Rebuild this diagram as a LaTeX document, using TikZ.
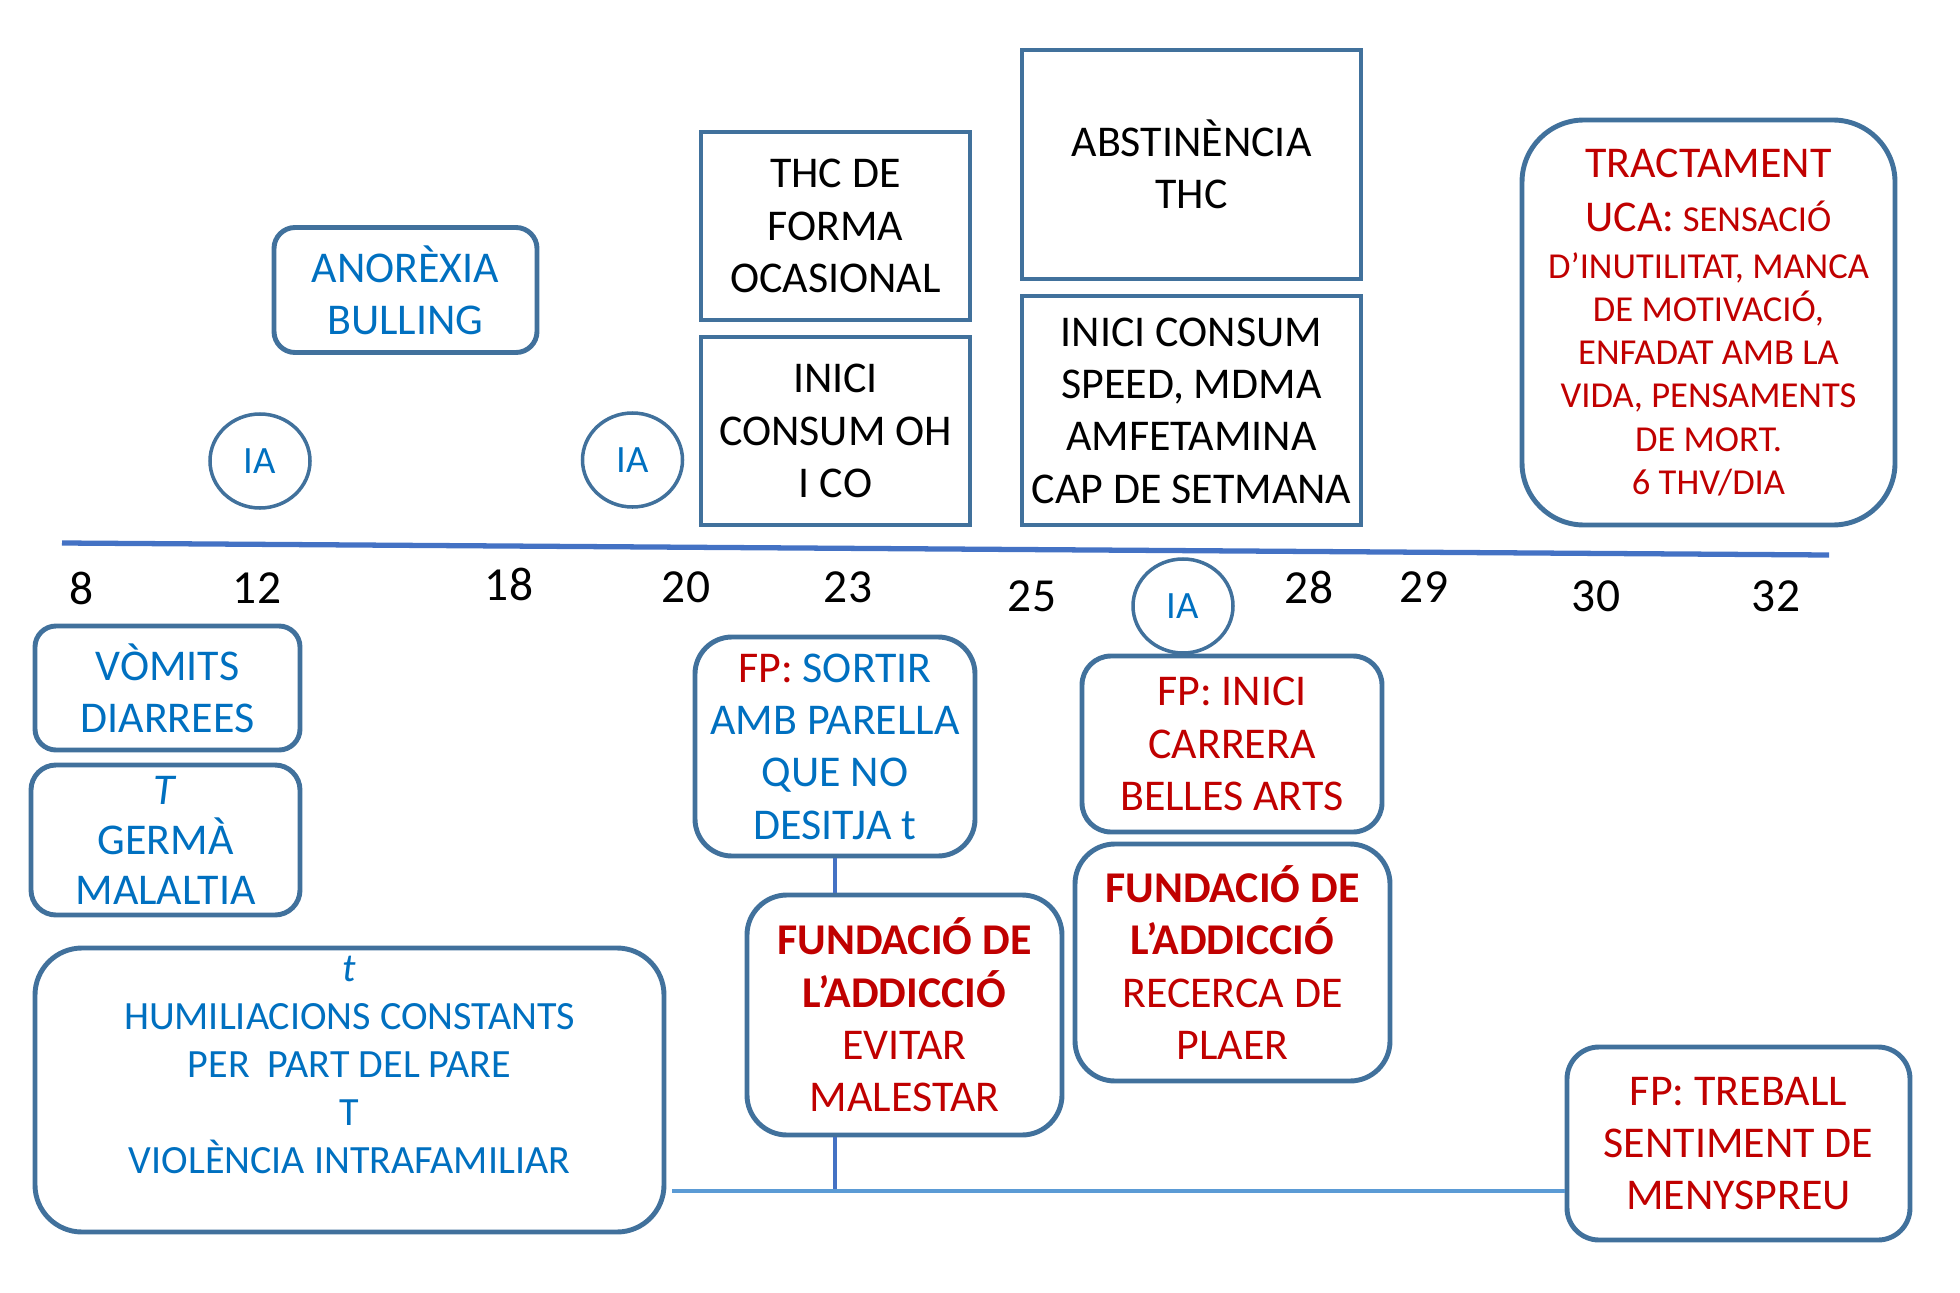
\documentclass[tikz,border=0pt]{standalone}
\usepackage{fontspec}
\setmainfont{Carlito}
\usetikzlibrary{shapes.geometric}

\definecolor{boxline}{HTML}{41719C}
\definecolor{txtblue}{HTML}{0070C0}
\definecolor{txtred}{HTML}{C00000}
\definecolor{axisblue}{HTML}{4472C4}
\definecolor{linkblue}{HTML}{5B9BD5}

\begin{document}
\begin{tikzpicture}[
  rbox/.style={draw=boxline, line width=1.4pt, align=center, inner sep=0pt, fill=white,
    font=\fontsize{12.5}{14.9}\selectfont},
  ia/.style={ellipse, draw=boxline, line width=1pt, inner sep=0pt, minimum width=1cm,
    minimum height=0.94cm, text=txtblue, font=\fontsize{11}{13}\selectfont},
  age/.style={inner sep=0pt, font=\fontsize{13.5}{16}\selectfont}
]
\useasboundingbox (0,0) rectangle (19.6,12.92);
% time axis
\coordinate (tl) at (0.62,7.49);
\coordinate (tr) at (18.29,7.37);
\draw [axisblue, line width=1.5pt] (tl) -- (tr);
\foreach \x/\y/\a in {0.82/7.04/8, 2.57/7.04/12, 5.09/7.08/18, 6.86/7.05/20, 8.48/7.05/23,
  10.32/6.96/25, 13.09/7.05/28, 14.24/7.05/29, 15.96/6.96/30, 17.76/6.96/32}
  \node[age] (age\a) at (\x,\y) {\a};
\node[ia] (ia1) at (2.60,8.31) {IA};
\node[ia] (ia2) at (6.325,8.32) {IA};
\node[ia] (ia3) at (11.83,6.86) {IA};
% above the axis
\node[rbox, rounded corners=0.21cm, minimum width=2.63cm, minimum height=1.25cm, text=txtblue]
  (anor) at (4.055,10.02) {ANORÈXIA\\BULLING};
\node[rbox, minimum width=2.69cm, minimum height=1.88cm] (thc) at (8.355,10.66)
  {THC DE\\FORMA\\OCASIONAL};
\node[rbox, minimum width=2.69cm, minimum height=1.88cm] (ohco) at (8.355,8.61)
  {INICI\\CONSUM OH\\I CO};
\node[rbox, minimum width=3.39cm, minimum height=2.29cm] (abst) at (11.915,11.275)
  {ABSTINÈNCIA\\THC};
\node[rbox, minimum width=3.39cm, minimum height=2.29cm] (speed) at (11.915,8.815)
  {INICI CONSUM\\SPEED, MDMA\\AMFETAMINA\\CAP DE SETMANA};
\node[rbox, rounded corners=0.62cm, minimum width=3.73cm, minimum height=4.05cm, text=txtred,
  font=\fontsize{10.4}{12.3}\selectfont] (tract) at (17.085,9.695)
  {{\fontsize{12.5}{14.9}\selectfont TRACTAMENT}\\[3pt]
   {\fontsize{12.5}{14.9}\selectfont UCA:} SENSACIÓ\\[1pt]D’INUTILITAT, MANCA\\DE MOTIVACIÓ,\\
   ENFADAT AMB LA\\VIDA, PENSAMENTS\\DE MORT.\\6 THV/DIA};
% below the axis
\node[rbox, rounded corners=0.21cm, minimum width=2.65cm, minimum height=1.24cm, text=txtblue]
  (vomits) at (1.675,6.04) {VÒMITS\\DIARREES};
\node[rbox, rounded corners=0.25cm, minimum width=2.69cm, minimum height=1.50cm, text=txtblue,
  font=\fontsize{12.5}{14.2}\selectfont] (germa) at (1.655,4.52) {\textit{T}\\GERMÀ\\MALALTIA};
\node[rbox, rounded corners=0.47cm, minimum width=6.29cm, minimum height=2.84cm] (hum)
  at (3.495,2.02) {};
\node[align=center, inner sep=0pt, text=txtblue, font=\fontsize{11.4}{13.6}\selectfont]
  (humtxt) at ([yshift=0.25cm]hum.center)
  {\textit{t}\\HUMILIACIONS CONSTANTS\\PER\ \ PART DEL PARE\\T\\VIOLÈNCIA INTRAFAMILIAR};
\node[rbox, rounded corners=0.37cm, minimum width=2.80cm, minimum height=2.19cm, text=txtblue]
  (sortir) at (8.35,5.455) {\textcolor{txtred}{FP:} SORTIR\\AMB PARELLA\\QUE NO\\DESITJA t};
\node[rbox, rounded corners=0.40cm, minimum width=3.15cm, minimum height=2.40cm, text=txtred]
  (fundA) at (9.045,2.77) {\textbf{FUNDACIÓ DE}\\\textbf{L’ADDICCIÓ}\\EVITAR\\MALESTAR};
\node[rbox, rounded corners=0.29cm, minimum width=3.00cm, minimum height=1.76cm, text=txtred]
  (inici) at (12.32,5.48) {FP: INICI\\CARRERA\\BELLES ARTS};
\node[rbox, rounded corners=0.40cm, minimum width=3.15cm, minimum height=2.37cm, text=txtred]
  (fundR) at (12.325,3.295) {\textbf{FUNDACIÓ DE}\\\textbf{L’ADDICCIÓ}\\RECERCA DE\\PLAER};
\node[rbox, rounded corners=0.32cm, minimum width=3.43cm, minimum height=1.93cm, text=txtred]
  (treball) at (17.385,1.485) {FP: TREBALL\\SENTIMENT DE\\MENYSPREU};
% links
\coordinate (base) at (6.72,1.01);
\draw [axisblue, line width=1.4pt] (sortir.south) -- (sortir.south |- fundA.north);
\draw [axisblue, line width=1.4pt] (sortir.south |- fundA.south) -- (sortir.south |- base);
\draw [linkblue, line width=1.4pt] (base) -- (base -| treball.west);
\end{tikzpicture}
\end{document}
